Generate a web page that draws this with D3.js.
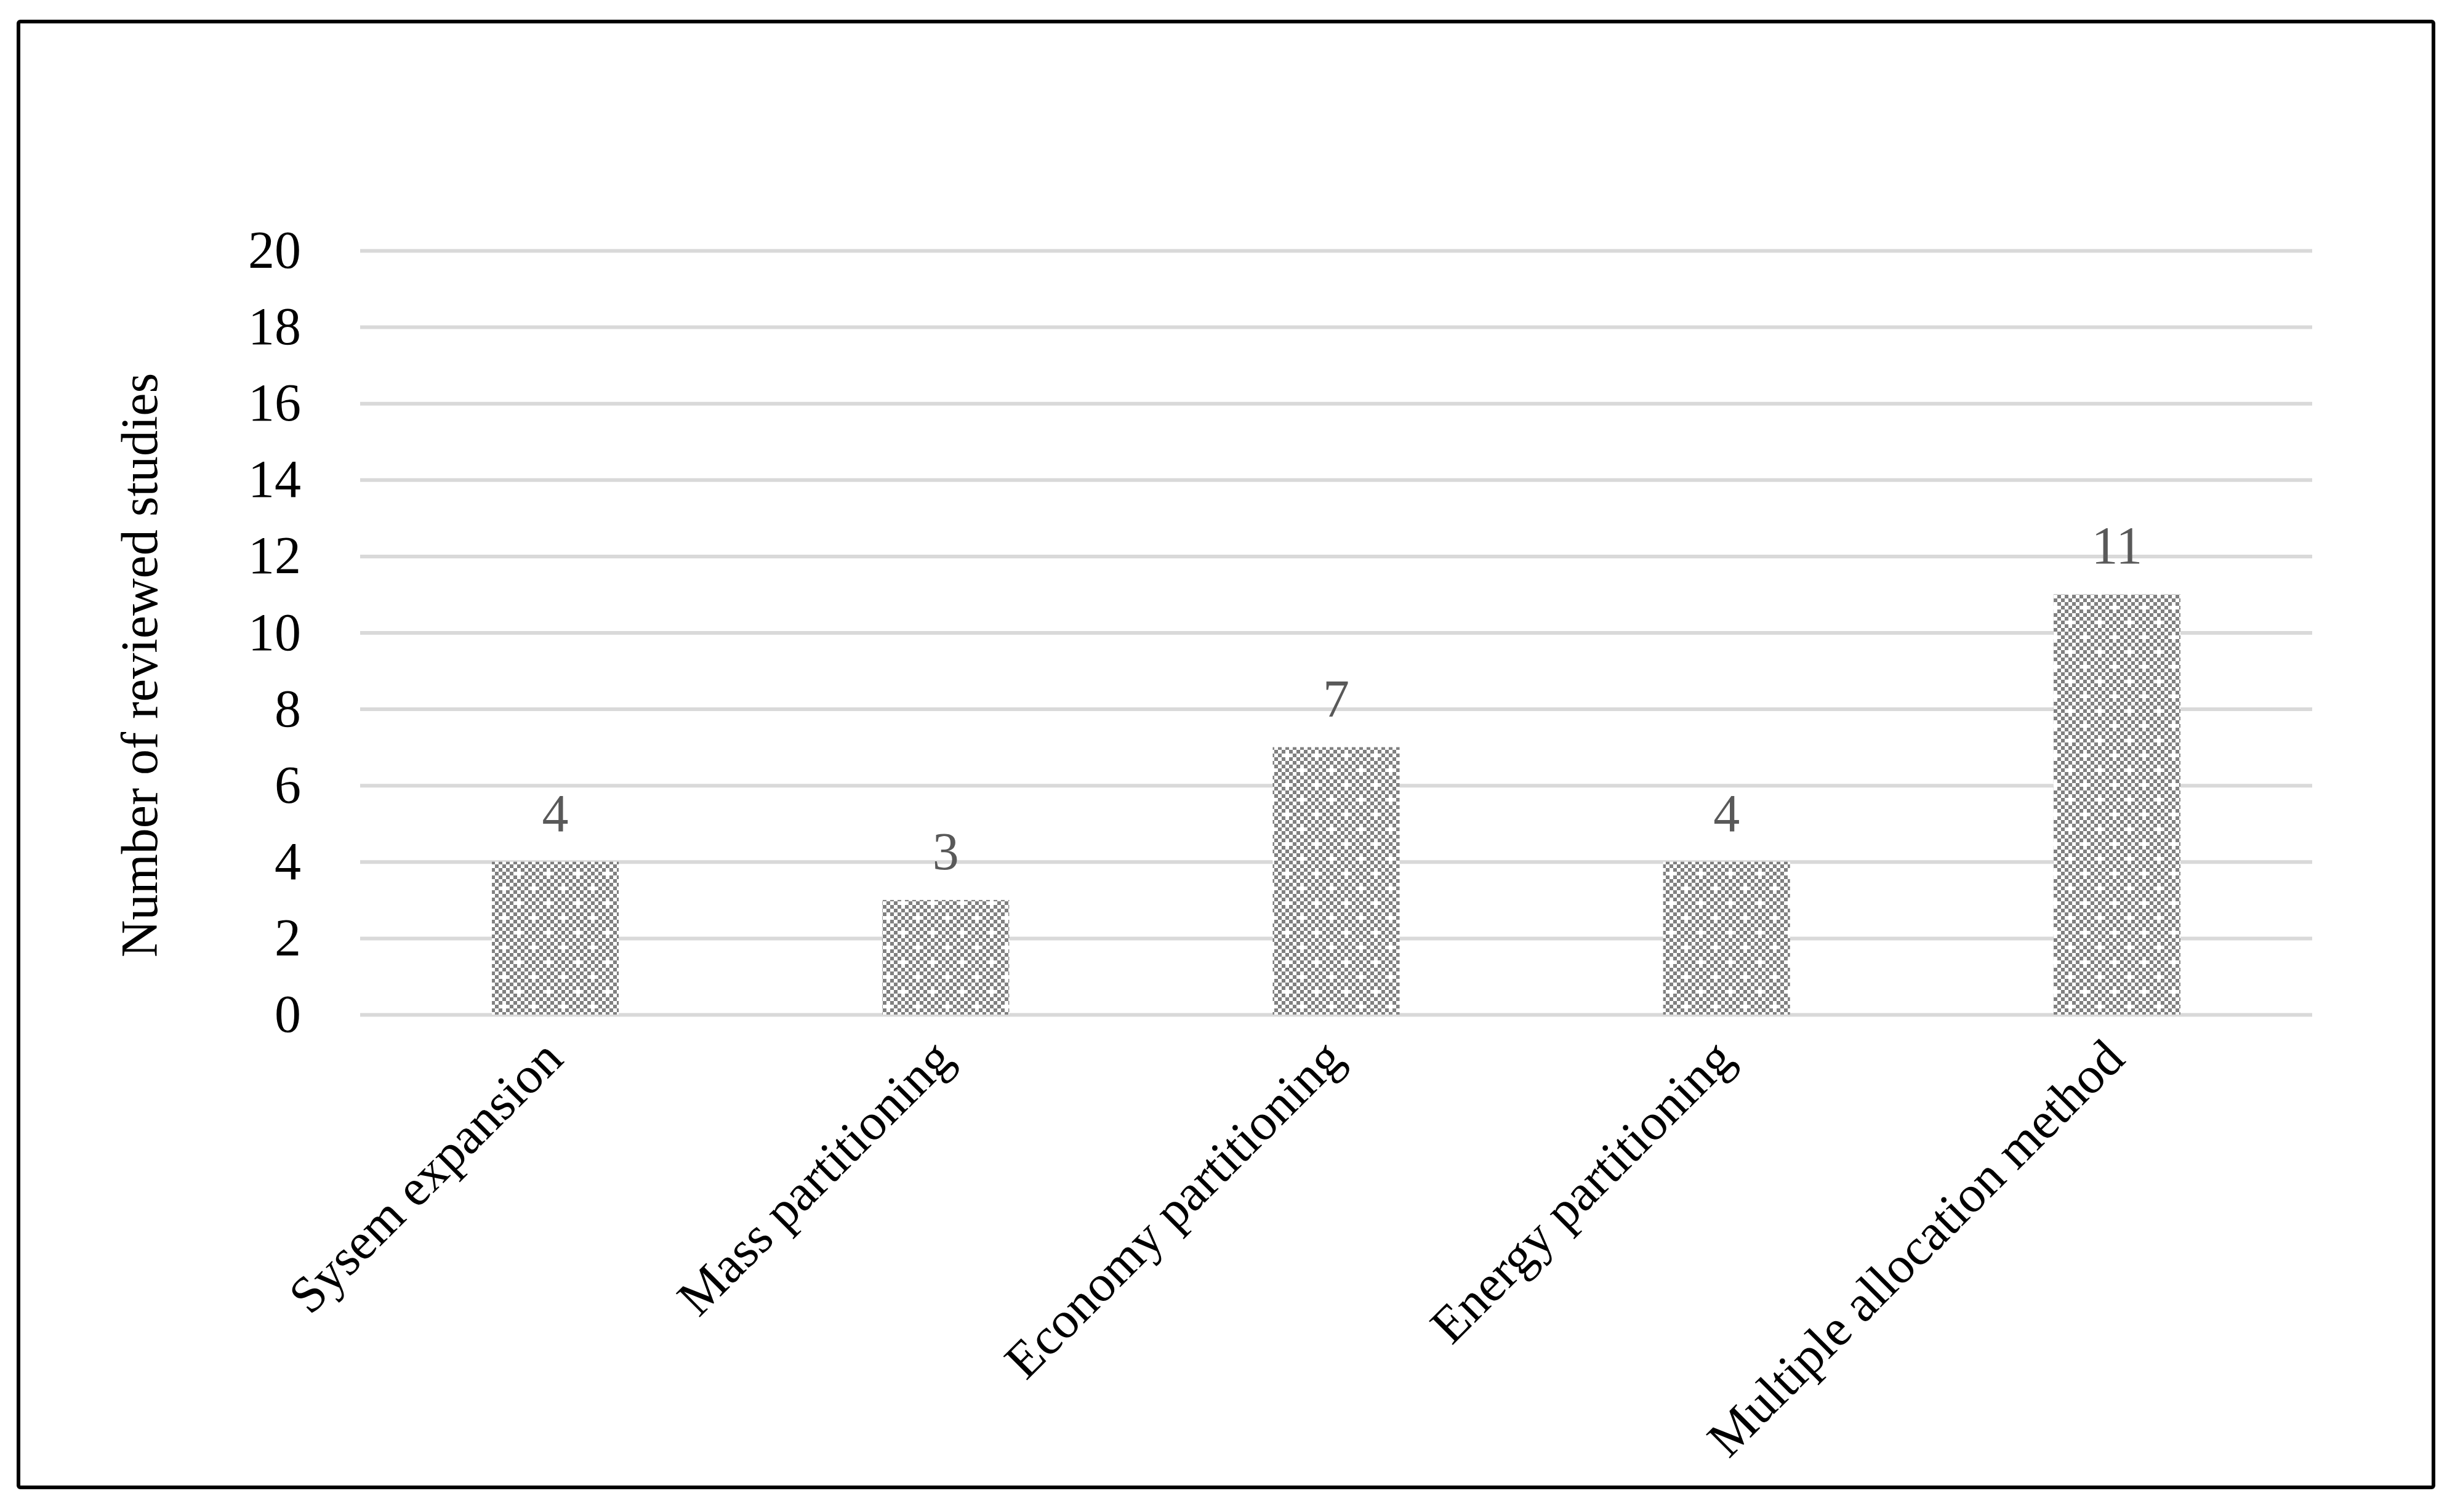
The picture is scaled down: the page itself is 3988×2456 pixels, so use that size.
<!DOCTYPE html>
<html>
<head>
<meta charset="utf-8">
<script src="https://cdn.jsdelivr.net/npm/d3@7"></script>
<style>
  html, body { margin: 0; padding: 0; background: #ffffff; }
  svg { display: block; }
</style>
</head>
<body>
<div id="chart"></div>
<script>
// ---- data ----
const categories = ["Sysem expansion", "Mass partitioning", "Economy partitioning", "Energy partitioning", "Multiple allocation method"];
const studyCounts = [4, 3, 7, 4, 11];
const yTickValues = [0, 2, 4, 6, 8, 10, 12, 14, 16, 18, 20];
const yAxisTitle = "Number of reviewed studies";

// ---- layout ----
const W = 3988, H = 2456;
const plot = { left: 585, right: 3756, top: 407, bottom: 1648 };
const FONT = "'Liberation Serif', 'Times New Roman', serif";

const svg = d3.select("#chart").append("svg")
  .attr("width", W).attr("height", H)
  .attr("viewBox", `0 0 ${W} ${H}`);

svg.append("rect").attr("width", W).attr("height", H).attr("fill", "#ffffff");

// pattern fill for bars (checker with holes)
const cell = 6, tileCells = 8;
const defs = svg.append("defs");
const pat = defs.append("pattern")
  .attr("id", "dots")
  .attr("patternUnits", "userSpaceOnUse")
  .attr("width", cell * tileCells).attr("height", cell * tileCells);
pat.append("rect").attr("width", cell * tileCells).attr("height", cell * tileCells).attr("fill", "#ffffff");
const holes = [[0, 0], [4, 4]];
const cells = [];
for (let i = 0; i < tileCells; i++) {
  for (let j = 0; j < tileCells; j++) {
    if ((i + j) % 2 === 0 && !holes.some(h => h[0] === i && h[1] === j)) cells.push([i, j]);
  }
}
pat.selectAll("rect.c").data(cells).join("rect")
  .attr("class", "c")
  .attr("x", d => d[0] * cell).attr("y", d => d[1] * cell)
  .attr("width", cell).attr("height", cell)
  .attr("fill", "#808080")
  .attr("shape-rendering", "crispEdges");

// scales
const x = d3.scaleBand()
  .domain(categories)
  .range([plot.left, plot.right])
  .paddingInner(0.675)
  .paddingOuter(0.3375);

const y = d3.scaleLinear()
  .domain([0, 20])
  .range([plot.bottom, plot.top]);

// gridlines
const grid = svg.append("g")
  .attr("transform", `translate(${plot.left},0)`)
  .call(d3.axisLeft(y).tickValues(yTickValues).tickSize(-(plot.right - plot.left)).tickFormat(""));
grid.select(".domain").remove();
grid.selectAll(".tick line").attr("stroke", "#d9d9d9").attr("stroke-width", 6);

// y tick labels
const yAxis = svg.append("g")
  .attr("transform", `translate(${plot.left},0)`)
  .call(d3.axisLeft(y).tickValues(yTickValues).tickSize(0).tickPadding(96));
yAxis.select(".domain").remove();
yAxis.selectAll(".tick line").remove();
yAxis.selectAll(".tick text")
  .attr("font-family", FONT).attr("font-size", 86).attr("fill", "#000000");

// bars
svg.append("g").selectAll("rect")
  .data(studyCounts)
  .join("rect")
  .attr("x", (d, i) => x(categories[i]))
  .attr("y", d => y(d))
  .attr("width", x.bandwidth())
  .attr("height", d => y(0) - y(d))
  .attr("fill", "url(#dots)");

// data labels
svg.append("g").selectAll("text")
  .data(studyCounts)
  .join("text")
  .attr("x", (d, i) => x(categories[i]) + x.bandwidth() / 2)
  .attr("y", d => y(d) - 50)
  .attr("text-anchor", "middle")
  .attr("font-family", FONT).attr("font-size", 86)
  .attr("fill", "#595959")
  .text(d => d);

// x labels (rotated)
const xAxis = svg.append("g")
  .attr("transform", `translate(0,${plot.bottom})`)
  .call(d3.axisBottom(x).tickSize(0).tickPadding(0));
xAxis.select(".domain").remove();
xAxis.selectAll(".tick text")
  .attr("font-family", FONT).attr("font-size", 84).attr("fill", "#000000")
  .attr("text-anchor", "end")
  .attr("dy", null)
  .attr("y", 0)
  .attr("transform", "translate(16,76) rotate(-45)");

// y title
svg.append("text")
  .attr("transform", `translate(255,${(plot.top + plot.bottom) / 2 + 53}) rotate(-90)`)
  .attr("text-anchor", "middle")
  .attr("font-family", FONT).attr("font-size", 84).attr("fill", "#000000")
  .text(yAxisTitle);

// outer frame
svg.append("rect")
  .attr("x", 30).attr("y", 35)
  .attr("width", 3953 - 30).attr("height", 2416 - 35)
  .attr("rx", 3)
  .attr("fill", "none").attr("stroke", "#000000").attr("stroke-width", 6);
</script>
</body>
</html>
